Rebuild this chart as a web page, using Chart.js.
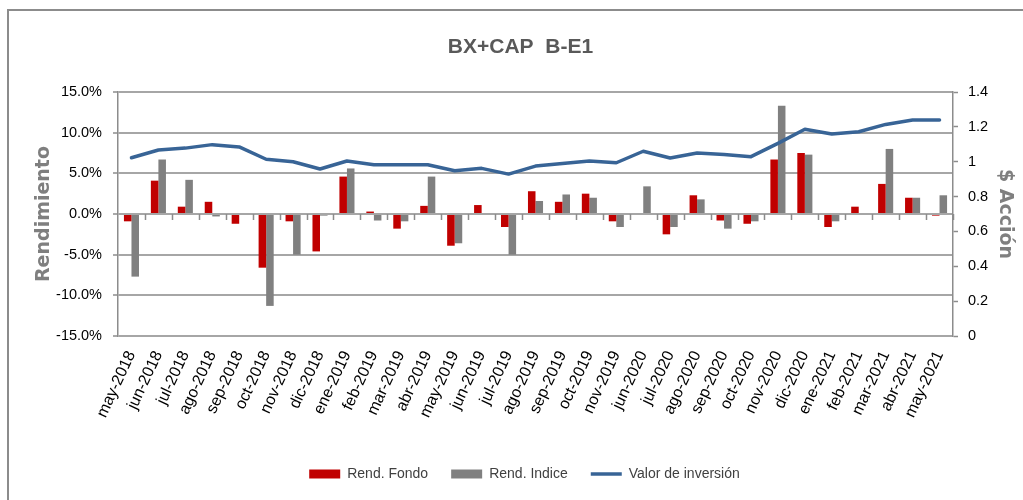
<!DOCTYPE html>
<html>
<head>
<meta charset="utf-8">
<script src="https://cdn.jsdelivr.net/npm/chart.js@4"></script>
<style>
  html, body { margin: 0; padding: 0; background: #fff; overflow: hidden; }
  #wrap { position: relative; width: 1023px; height: 500px; }
  #frame { position: absolute; left: 7px; top: 9px; width: 2000px; height: 2000px; border: 2px solid #8c8c8c; box-sizing: border-box; }
  canvas { position: absolute; left: 0; top: 0; }
</style>
</head>
<body>
<div id="wrap">
  <div id="frame"></div>
  <canvas id="c" width="1023" height="500"></canvas>
</div>
<script>
const categories = ['may-2018','jun-2018','jul-2018','ago-2018','sep-2018','oct-2018','nov-2018','dic-2018','ene-2019','feb-2019','mar-2019','abr-2019','may-2019','jun-2019','jul-2019','ago-2019','sep-2019','oct-2019','nov-2019','jun-2020','jul-2020','ago-2020','sep-2020','oct-2020','nov-2020','dic-2020','ene-2021','feb-2021','mar-2021','abr-2021','may-2021'];
const rendFondo = [-0.9, 4.1, 0.9, 1.5, -1.2, -6.6, -0.9, -4.6, 4.6, 0.3, -1.8, 1.0, -3.9, 1.1, -1.6, 2.8, 1.5, 2.5, -0.9, 0.0, -2.5, 2.3, -0.8, -1.2, 6.7, 7.5, -1.6, 0.9, 3.7, 2.0, -0.2];
const rendIndice = [-7.7, 6.7, 4.2, -0.3, 0.0, -11.3, -5.0, -0.2, 5.6, -0.8, -0.9, 4.6, -3.6, 0.0, -5.0, 1.6, 2.4, 2.0, -1.6, 3.4, -1.6, 1.8, -1.8, -0.9, 13.3, 7.3, -0.9, 0.0, 8.0, 2.0, 2.3];
const valorInversion = [1.023, 1.067, 1.078, 1.098, 1.085, 1.014, 1.000, 0.958, 1.004, 0.983, 0.983, 0.983, 0.948, 0.962, 0.929, 0.975, 0.990, 1.004, 0.994, 1.060, 1.021, 1.050, 1.042, 1.029, 1.105, 1.186, 1.159, 1.172, 1.214, 1.239, 1.239];
const leftTicks = [-15, -10, -5, 0, 5, 10, 15];
const rightTicks = [0, 0.2, 0.4, 0.6, 0.8, 1, 1.2, 1.4];

const FONT = "'Liberation Sans', Arial, sans-serif";

const zeroTicks = {
  id: 'zeroTicks',
  beforeDatasetsDraw(chart) {
    const xs = chart.scales.x, ys = chart.scales.y;
    const y0 = ys.getPixelForValue(0);
    const half = (xs.getPixelForValue(1) - xs.getPixelForValue(0)) / 2;
    const ctx = chart.ctx;
    ctx.save();
    ctx.strokeStyle = '#8c8c8c';
    ctx.lineWidth = 1.5;
    ctx.beginPath();
    for (let i = 1; i <= categories.length; i++) {
      const x = Math.round(xs.getPixelForValue(i - 1) + half) + 0.5;
      ctx.moveTo(x, y0);
      ctx.lineTo(x, y0 + 6);
    }
    ctx.stroke();
    ctx.restore();
  }
};

const shiftBlocks = {
  id: 'shiftBlocks',
  afterLayout(chart) {
    if (chart.legend) { chart.legend.left += 13; chart.legend.right += 13; }
    if (chart.titleBlock) { chart.titleBlock.left += 9; chart.titleBlock.right += 9; }
  }
};

new Chart(document.getElementById('c'), {
  data: {
    labels: categories,
    datasets: [
      { type: 'bar', label: 'Rend. Fondo', data: rendFondo, backgroundColor: '#c00000', borderWidth: 0, yAxisID: 'y', order: 1, pointStyle: 'rect', categoryPercentage: 0.56, barPercentage: 1.0 },
      { type: 'bar', label: 'Rend. Indice', data: rendIndice, backgroundColor: '#808080', borderWidth: 0, yAxisID: 'y', order: 1, pointStyle: 'rect', categoryPercentage: 0.56, barPercentage: 1.0 },
      { type: 'line', label: 'Valor de inversión', data: valorInversion, borderColor: '#386496', backgroundColor: '#386496', borderWidth: 3.5, pointRadius: 0, pointStyle: 'line', tension: 0, borderJoinStyle: 'round', borderCapStyle: 'round', yAxisID: 'y1', order: 0 }
    ]
  },
  options: {
    responsive: false,
    animation: false,
    layout: { padding: { left: 0, right: 0, top: 0, bottom: 9 } },
    plugins: {
      title: {
        display: true,
        text: 'BX+CAP  B-E1',
        color: '#595959',
        font: { family: FONT, size: 21, weight: 'bold' },
        padding: { top: 35, bottom: 31.8 }
      },
      legend: {
        position: 'bottom',
        labels: {
          usePointStyle: true,
          pointStyleWidth: 31,
          boxHeight: 9,
          padding: 23,
          color: '#404040',
          font: { family: FONT, size: 14 },
          sort: (a, b) => a.datasetIndex - b.datasetIndex
        }
      },
      tooltip: { enabled: false }
    },
    scales: {
      x: {
        type: 'category',
        offset: true,
        grid: { display: false, drawTicks: false },
        border: { display: false },
        ticks: { color: '#000', font: { family: FONT, size: 16 }, minRotation: 65, maxRotation: 65, padding: 12, autoSkip: false },
        afterFit(scale) { scale.height = 108; }
      },
      y: {
        position: 'left',
        min: -15, max: 15,
        afterBuildTicks(scale) { scale.ticks = leftTicks.map(v => ({ value: v })); },
        grid: { color: '#a6a6a6', lineWidth: 2, tickLength: 5, tickColor: '#8c8c8c', tickWidth: 1.5 },
        border: { display: true, color: '#8c8c8c', width: 1.5 },
        ticks: { color: '#000', font: { family: FONT, size: 14.5 }, padding: 11, callback: v => v.toFixed(1) + '%' },
        title: { display: true, text: 'Rendimiento', color: '#7f7f7f', font: { family: "'DejaVu Sans', sans-serif", size: 19, weight: 'bold' }, padding: { top: 33, bottom: 0 } },
        afterFit(scale) { scale.width = 118; }
      },
      y1: {
        position: 'right',
        min: 0, max: 1.4,
        afterBuildTicks(scale) { scale.ticks = rightTicks.map(v => ({ value: v })); },
        grid: { display: true, drawOnChartArea: false, tickLength: 5, color: '#8c8c8c', tickWidth: 1.5 },
        border: { display: true, color: '#8c8c8c', width: 1.5 },
        ticks: { color: '#000', font: { family: FONT, size: 14.5 }, padding: 10, callback: v => String(Math.round(v * 10) / 10) },
        title: { display: true, text: '$ Acción', color: '#7f7f7f', font: { family: "'DejaVu Sans', sans-serif", size: 19, weight: 'bold' }, padding: { top: 7, bottom: 0 } },
        afterFit(scale) { scale.width = 70; }
      }
    }
  },
  plugins: [zeroTicks, shiftBlocks]
});
</script>
</body>
</html>
